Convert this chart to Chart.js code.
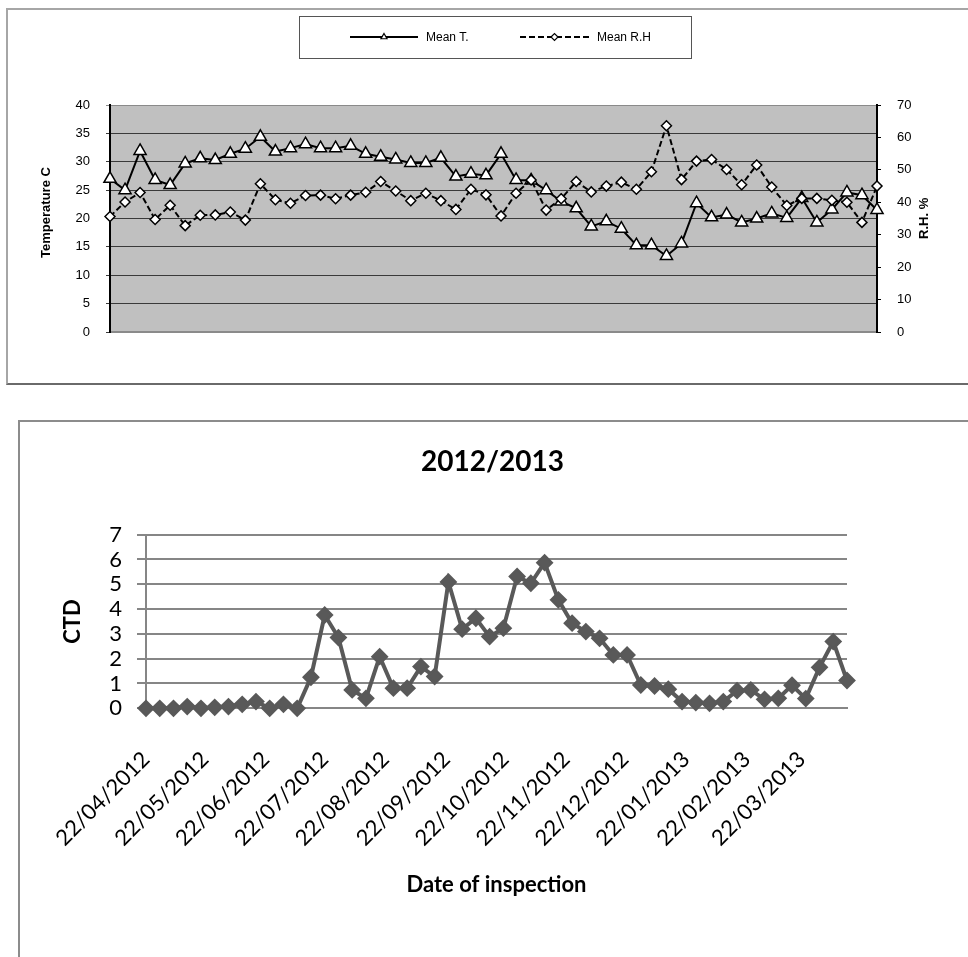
<!DOCTYPE html>
<html>
<head>
<meta charset="utf-8">
<script src="https://cdn.jsdelivr.net/npm/chart.js@4.4.1/dist/chart.umd.min.js"></script>
<style>
html, body { margin: 0; padding: 0; background: #fff; overflow: hidden; width: 968px; height: 957px; }
#topBox { position: absolute; left: 6px; top: 8px; width: 970px; height: 377px; box-sizing: border-box; border: 2px solid; border-color: #a6a6a6 #6a6a6a #6a6a6a #a6a6a6; }
#bottomBox { position: absolute; left: 18px; top: 420px; width: 970px; height: 560px; box-sizing: border-box; border: 2px solid #8c8c8c; }
canvas { position: absolute; left: 0; top: 0; }
</style>
</head>
<body>
<div id="topBox"><canvas id="tempChart" width="958" height="373"></canvas></div>
<div id="bottomBox"><canvas id="ctdChart" width="945" height="535"></canvas></div>
<script>
// weekly inspections
const inspectionDates = [
    '22/04/2012', '29/04/2012', '06/05/2012', '13/05/2012', '20/05/2012', '27/05/2012',
    '03/06/2012', '10/06/2012', '17/06/2012', '24/06/2012', '01/07/2012', '08/07/2012',
    '15/07/2012', '22/07/2012', '29/07/2012', '05/08/2012', '12/08/2012', '19/08/2012',
    '26/08/2012', '02/09/2012', '09/09/2012', '16/09/2012', '23/09/2012', '30/09/2012',
    '07/10/2012', '14/10/2012', '21/10/2012', '28/10/2012', '04/11/2012', '11/11/2012',
    '18/11/2012', '25/11/2012', '02/12/2012', '09/12/2012', '16/12/2012', '23/12/2012',
    '30/12/2012', '06/01/2013', '13/01/2013', '20/01/2013', '27/01/2013', '03/02/2013',
    '10/02/2013', '17/02/2013', '24/02/2013', '03/03/2013', '10/03/2013', '17/03/2013',
    '24/03/2013', '31/03/2013', '07/04/2013', '14/04/2013'
];

const meanTemp = [
    27.0, 25.0, 31.9, 26.8, 25.9, 29.7, 30.6, 30.3, 31.4, 32.3,
    34.4, 31.8, 32.4, 33.1, 32.4, 32.4, 32.8, 31.4, 30.9, 30.4,
    29.8, 29.8, 30.7, 27.4, 27.9, 27.6, 31.4, 26.8, 26.7, 25.0,
    23.0, 21.8, 18.6, 19.5, 18.2, 15.3, 15.3, 13.4, 15.6, 22.7,
    20.2, 20.7, 19.3, 20.0, 20.9, 20.1, 23.6, 19.3, 21.6, 24.6,
    24.1, 21.5
];

const meanRH = [
    35.6, 40.1, 43.0, 34.7, 39.1, 32.8, 36.0, 36.1, 37.0, 34.5,
    45.7, 40.8, 39.7, 42.1, 42.2, 41.1, 42.2, 43.1, 46.4, 43.5,
    40.5, 42.8, 40.5, 37.8, 44.0, 42.3, 35.8, 42.8, 46.9, 37.6,
    41.1, 46.4, 43.2, 45.0, 46.2, 44.0, 49.4, 63.6, 47.0, 52.7,
    53.2, 50.1, 45.4, 51.5, 44.7, 39.0, 41.2, 41.2, 40.6, 40.0,
    33.8, 45.0
];

const ctdValues = [
    0, 0, 0, 0.07, 0, 0.04, 0.07, 0.16, 0.27, 0,
    0.16, 0, 1.25, 3.76, 2.85, 0.74, 0.40, 2.08, 0.81, 0.81,
    1.68, 1.28, 5.09, 3.19, 3.63, 2.89, 3.23, 5.31, 5.04, 5.87,
    4.37, 3.43, 3.09, 2.82, 2.15, 2.15, 0.94, 0.90, 0.77, 0.27,
    0.23, 0.20, 0.27, 0.71, 0.74, 0.36, 0.40, 0.93, 0.39, 1.65,
    2.69, 1.12
];

const monthTicks = [
    '22/04/2012', '22/05/2012', '22/06/2012', '22/07/2012', '22/08/2012', '22/09/2012',
    '22/10/2012', '22/11/2012', '22/12/2012', '22/01/2013', '22/02/2013', '22/03/2013'
];

function dayOf(s) {
    const [d, m, y] = s.split('/').map(Number);
    const [d0, m0, y0] = inspectionDates[0].split('/').map(Number);
    return (Date.UTC(y, m - 1, d) - Date.UTC(y0, m0 - 1, d0)) / 86400000;
}

const plotBackground = {
    id: 'plotBackground',
    beforeDraw(chart, args, opts) {
        const { left, top, width, height } = chart.chartArea;
        chart.ctx.save();
        chart.ctx.fillStyle = opts.color;
        chart.ctx.fillRect(left, top, width, height);
        chart.ctx.restore();
    }
};

// legend in a frame, samples drawn from the datasets' own styles
const boxedLegend = {
    id: 'boxedLegend',
    afterDraw(chart, args, opts) {
        const ctx = chart.ctx;
        const y = opts.top + opts.height / 2;
        ctx.save();
        ctx.strokeStyle = '#555';
        ctx.lineWidth = 1;
        ctx.strokeRect(opts.left + 0.5, opts.top + 0.5, opts.width, opts.height);
        ctx.font = '12px "Liberation Sans", Arial';
        ctx.textBaseline = 'middle';
        ctx.textAlign = 'left';
        chart.data.datasets.forEach((ds, i) => {
            const item = opts.items[i];
            ctx.strokeStyle = ds.borderColor;
            ctx.lineWidth = ds.borderWidth;
            ctx.setLineDash(ds.borderDash || []);
            ctx.beginPath();
            ctx.moveTo(item.x, y);
            ctx.lineTo(item.x + item.w, y);
            ctx.stroke();
            ctx.setLineDash([]);
            ctx.fillStyle = '#fff';
            ctx.lineWidth = 1.2;
            Chart.helpers.drawPoint(ctx, { pointStyle: ds.pointStyle, radius: 3.5, borderWidth: 1.2, rotation: 0 }, item.x + item.w / 2, y);
            ctx.fillStyle = '#000';
            ctx.fillText(ds.label, item.x + item.w + 8, y + 1);
        });
        ctx.restore();
    }
};

const sideTitles = {
    id: 'sideTitles',
    afterDraw(chart, args, opts) {
        const ctx = chart.ctx;
        opts.items.forEach(t => {
            ctx.save();
            ctx.translate(t.x, t.y);
            ctx.rotate(-Math.PI / 2);
            ctx.font = 'bold 13px "Liberation Sans", Arial';
            ctx.fillStyle = '#000';
            ctx.textAlign = 'center';
            ctx.textBaseline = 'middle';
            ctx.fillText(t.text, 0, 0);
            ctx.restore();
        });
    }
};

const topFont = { family: '"Liberation Sans", Arial', size: 13 };

new Chart(document.getElementById('tempChart'), {
    type: 'line',
    data: {
        labels: inspectionDates,
        datasets: [{
            label: 'Mean T.',
            data: meanTemp,
            yAxisID: 'yT',
            borderColor: '#000',
            borderWidth: 2,
            pointStyle: 'triangle',
            pointRadius: 7,
            pointBackgroundColor: '#fff',
            pointBorderColor: '#000',
            pointBorderWidth: 1.5,
            tension: 0,
            clip: false,
            order: 2
        }, {
            label: 'Mean R.H',
            data: meanRH,
            yAxisID: 'yRH',
            borderColor: '#000',
            borderWidth: 2,
            borderDash: [6, 3],
            pointStyle: 'rectRot',
            pointRadius: 5,
            pointBackgroundColor: '#fff',
            pointBorderColor: '#000',
            pointBorderWidth: 1.5,
            tension: 0,
            clip: false,
            order: 1
        }]
    },
    options: {
        responsive: false,
        animation: false,
        layout: { padding: { left: 0, right: 0, top: 95, bottom: 43 } },
        plugins: {
            legend: { display: false },
            tooltip: { enabled: false },
            plotBackground: { color: '#c0c0c0' },
            boxedLegend: {
                left: 291, top: 6, width: 392, height: 42,
                items: [{ x: 342, w: 68 }, { x: 512, w: 69 }]
            },
            sideTitles: {
                items: [
                    { text: 'Temperature C', x: 38.7, y: 202.5 },
                    { text: 'R.H. %', x: 916.7, y: 208.3 }
                ]
            }
        },
        scales: {
            x: {
                type: 'category',
                offset: false,
                ticks: { display: false },
                grid: { display: false },
                border: { color: '#8a8a8a', width: 2 }
            },
            yT: {
                position: 'left',
                min: 0,
                max: 40,
                ticks: { stepSize: 5, autoSkip: false, padding: 16, color: '#000', font: topFont },
                grid: {
                    color: (c) => (c.tick && c.tick.value === 40 ? '#8a8a8a' : '#3a3a3a'),
                    lineWidth: 1,
                    tickLength: 4
                },
                border: { color: '#000', width: 2 },
                afterFit: (s) => { s.width = 102; }
            },
            yRH: {
                position: 'right',
                min: 0,
                max: 70,
                ticks: { stepSize: 10, autoSkip: false, padding: 16, color: '#000', font: topFont },
                grid: { drawOnChartArea: false, color: '#000', tickLength: 4 },
                border: { color: '#000', width: 2 },
                afterFit: (s) => { s.width = 89; }
            }
        }
    },
    plugins: [plotBackground, boxedLegend, sideTitles]
});

const ctdFont = { family: 'Lato, "Open Sans", sans-serif', size: 22 };
const lastDay = dayOf(inspectionDates[inspectionDates.length - 1]);

new Chart(document.getElementById('ctdChart'), {
    type: 'line',
    data: {
        datasets: [{
            label: 'CTD',
            data: inspectionDates.map((d, i) => ({ x: dayOf(d), y: ctdValues[i] })),
            borderColor: '#595959',
            borderWidth: 4,
            pointStyle: 'rectRot',
            pointRadius: 7.5,
            pointBackgroundColor: '#595959',
            pointBorderColor: '#595959',
            pointBorderWidth: 2,
            tension: 0,
            clip: false
        }]
    },
    options: {
        responsive: false,
        animation: false,
        layout: { padding: 0 },
        plugins: {
            legend: { display: false },
            tooltip: { enabled: false },
            title: {
                display: true,
                text: '2012/2013',
                color: '#000',
                font: { family: ctdFont.family, size: 28, weight: 'bold' },
                padding: { top: 23, bottom: 56 }
            }
        },
        scales: {
            x: {
                type: 'linear',
                min: 0,
                max: lastDay,
                afterBuildTicks: (s) => {
                    s.ticks = monthTicks.map((m) => ({ value: dayOf(m) }));
                },
                ticks: {
                    autoSkip: false,
                    maxRotation: 45,
                    minRotation: 45,
                    padding: 30,
                    color: '#000',
                    font: ctdFont,
                    callback: (value, index) => monthTicks[index]
                },
                grid: { display: false },
                border: { color: '#868686', width: 2 },
                title: {
                    display: true,
                    text: 'Date of inspection',
                    color: '#000',
                    font: { family: ctdFont.family, size: 22, weight: 'bold' },
                    padding: { top: 0, bottom: 59 }
                },
                afterFit: (s) => { s.height = 248.7; }
            },
            y: {
                min: 0,
                max: 7,
                ticks: { stepSize: 1, autoSkip: false, padding: 15, color: '#000', font: ctdFont },
                grid: { color: '#868686', lineWidth: 2, tickLength: 9 },
                border: { color: '#868686', width: 2 },
                title: {
                    display: true,
                    text: 'CTD',
                    color: '#000',
                    font: { family: ctdFont.family, size: 22, weight: 'bold' },
                    padding: { top: 40, bottom: 0 }
                },
                afterFit: (s) => { s.width = 126; }
            },
            spacer: {
                type: 'linear',
                axis: 'y',
                position: 'right',
                ticks: { display: false },
                grid: { display: false },
                border: { display: false },
                afterFit: (s) => { s.width = 118; }
            }
        }
    }
});
</script>
</body>
</html>
